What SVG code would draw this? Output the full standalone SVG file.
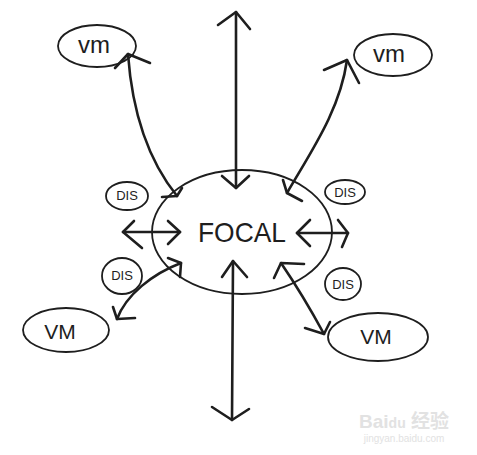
<svg xmlns="http://www.w3.org/2000/svg" width="477" height="455" viewBox="0 0 477 455">
<style>
.bg{fill:#ffffff}
.shape{fill:none;stroke:#1e1e1e;stroke-width:1.8}
.conn{fill:none;stroke:#1e1e1e;stroke-width:2.6;stroke-linecap:round;stroke-linejoin:round}
.lbl{font-family:"Liberation Sans","DejaVu Sans",sans-serif;fill:#1e1e1e;text-anchor:middle;dominant-baseline:central}
.big{font-size:28px}
.vm{font-size:24px}
.VM{font-size:21px}
.dis{font-size:13px}
.wm{font-family:"Liberation Sans","Noto Sans CJK SC",sans-serif;fill:#e2e2e2;text-anchor:middle}
</style>
<rect class="bg" x="0" y="0" width="477" height="455"/>

<g id="focal">
  <ellipse class="shape" cx="242" cy="232" rx="90" ry="62"/>
  <text class="lbl big" x="242" y="232" textLength="88" lengthAdjust="spacingAndGlyphs">FOCAL</text>
</g>
<g id="vm-top-left">
  <ellipse class="shape" cx="97" cy="46" rx="39" ry="21"/>
  <text class="lbl vm" x="94" y="44">vm</text>
</g>
<g id="vm-top-right">
  <ellipse class="shape" cx="393" cy="55" rx="39" ry="21"/>
  <text class="lbl vm" x="389" y="53">vm</text>
</g>
<g id="vm-bottom-left">
  <ellipse class="shape" cx="66" cy="330" rx="43" ry="22"/>
  <text class="lbl VM" x="60" y="331">VM</text>
</g>
<g id="vm-bottom-right">
  <ellipse class="shape" cx="378" cy="337" rx="50" ry="24"/>
  <text class="lbl VM" x="376" y="336">VM</text>
</g>
<g id="dis-top-left">
  <ellipse class="shape" cx="127" cy="196" rx="21" ry="14"/>
  <text class="lbl dis" x="127" y="195">DIS</text>
</g>
<g id="dis-top-right">
  <ellipse class="shape" cx="345" cy="192" rx="20" ry="12"/>
  <text class="lbl dis" x="345" y="192">DIS</text>
</g>
<g id="dis-bottom-left">
  <ellipse class="shape" cx="122" cy="276" rx="20" ry="18"/>
  <text class="lbl dis" x="122" y="275">DIS</text>
</g>
<g id="dis-bottom-right">
  <ellipse class="shape" cx="343" cy="284" rx="18" ry="16"/>
  <text class="lbl dis" x="343" y="284">DIS</text>
</g>

<g id="connectors">
  <path class="conn" d="M236,12 L236,188"/>
  <path class="conn" d="M218,25 L236,12 L250,29"/>
  <path class="conn" d="M222,176 L236,188 L249,176"/>
  <path class="conn" d="M233,261 L232,420"/>
  <path class="conn" d="M222,277 L233,261 L247,277"/>
  <path class="conn" d="M212,407 L232,420 L249,409"/>
  <path class="conn" d="M123,232 L180,232"/>
  <path class="conn" d="M134,221 L123,232 L142,248"/>
  <path class="conn" d="M168,221 L180,232 L168,244"/>
  <path class="conn" d="M297,233 L348,233"/>
  <path class="conn" d="M310,220 L297,233 L310,246"/>
  <path class="conn" d="M338,220 L348,233 L342,247"/>
  <path class="conn" d="M128,54 C132,110 148,160 177,196"/>
  <path class="conn" d="M115,68 L128,54 L150,63"/>
  <path class="conn" d="M162,197 L177,196 L182,188"/>
  <path class="conn" d="M347,60 C340,110 312,150 287,193"/>
  <path class="conn" d="M324,70 L347,60 L359,83"/>
  <path class="conn" d="M283,180 L287,193 L302,201"/>
  <path class="conn" d="M181,263 C152,274 126,295 117,319"/>
  <path class="conn" d="M168,258 L181,263 L180,277"/>
  <path class="conn" d="M113,307 L117,319 L135,318"/>
  <path class="conn" d="M281,263 C296,285 311,310 324,334"/>
  <path class="conn" d="M274,278 L281,263 L304,264"/>
  <path class="conn" d="M305,328 L324,334 L330,322"/>
</g>

<g id="watermark">
  <text class="wm" x="404" y="428" font-size="19" font-weight="bold">Bai<tspan font-size="14">du</tspan> 经验</text>
  <text class="wm" x="404" y="442" font-size="10">jingyan.baidu.com</text>
</g>
</svg>
